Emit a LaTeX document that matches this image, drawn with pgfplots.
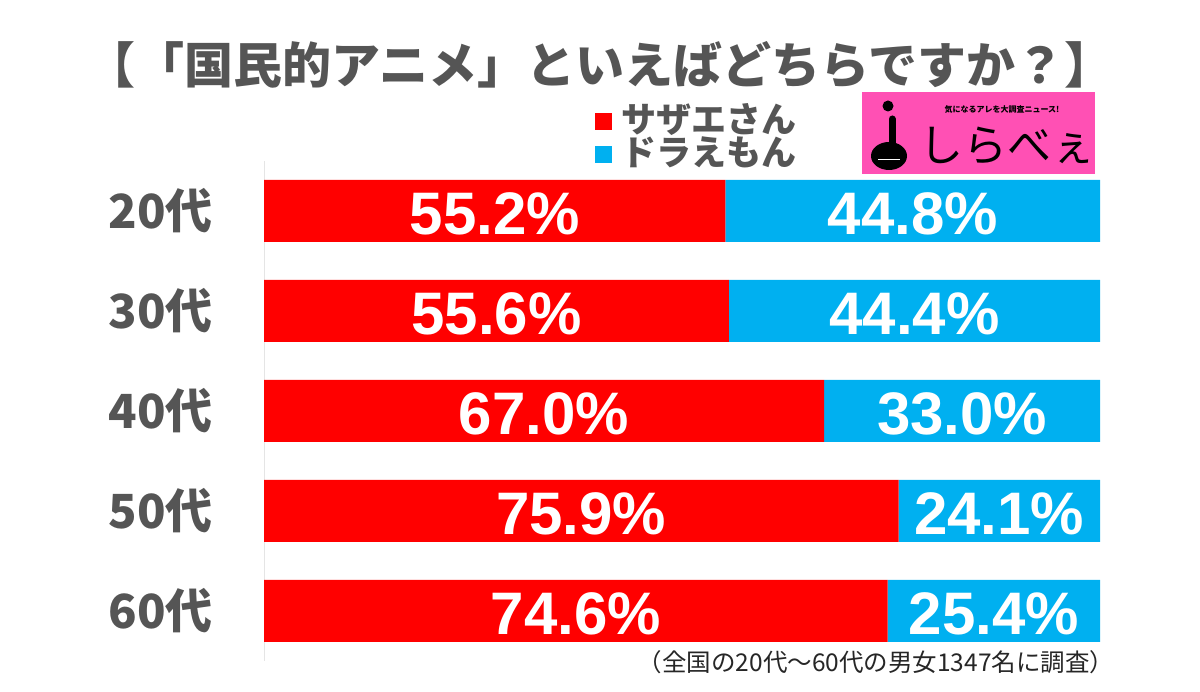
\documentclass[border=0pt]{standalone}
\usepackage{fontspec}
\setmainfont{Noto Sans CJK JP}
\newfontfamily\lib{Liberation Sans}
\usepackage{pgfplots}
\usepackage{pgfplotstable}
\pgfplotsset{compat=1.18}
\definecolor{sred}{HTML}{FF0000}
\definecolor{dblue}{HTML}{00B0F0}
\definecolor{tgray}{HTML}{555555}
\definecolor{logopink}{HTML}{FF50B4}
\pgfplotstableread{
y a b la lb
0 55.2 44.8 55.2 44.8
1 55.6 44.4 55.6 44.4
2 67.0 33.0 67.0 33.0
3 75.9 24.1 75.9 24.1
4 74.6 25.4 74.6 25.4
}\data
\begin{document}
\begin{tikzpicture}[x=1pt,y=1pt]
\path[use as bounding box] (0,0) rectangle (1200,692);
\node[font=\fontsize{49}{50}\selectfont\bfseries, text=tgray] at (600,627) {【「国民的アニメ」といえばどちらですか？】};
\begin{axis}[at={(264pt,31pt)}, anchor=south west, width=836pt, height=500pt, scale only axis,
  xbar stacked, bar width=62pt, xmin=0, xmax=100, ymin=-0.5, ymax=4.5, y dir=reverse,
  axis x line=none, axis y line=left, y axis line style={-, draw=gray!20, line width=1pt},
  ytick={0,1,2,3,4}, yticklabels={20代,30代,40代,50代,60代}, major tick length=0pt,
  yticklabel style={font=\fontsize{47}{50}\selectfont\bfseries, text=tgray, inner sep=0pt, xshift=-51pt, anchor=east},
  clip=false,
  legend style={at={(0.396,1.112)}, anchor=north west, draw=none, fill=none, inner sep=0pt, row sep=0pt,
    font=\fontsize{35}{38}\selectfont\bfseries, text=tgray, legend cell align=left,
    nodes={inner sep=0pt, text height=27pt, text depth=6pt}},
  legend image code/.code={\fill[#1] (0pt,-8.5pt) rectangle (17pt,8.5pt);},
]
\addlegendimage{fill=sred,draw=none}
\addlegendentry{\hspace{9pt}サザエさん}
\addlegendimage{fill=dblue,draw=none}
\addlegendentry{\hspace{9pt}ドラえもん}
\addplot[forget plot, fill=sred, draw=none, nodes near coords={\pgfplotspointmeta\%}, point meta=explicit symbolic,
  every node near coord/.append style={anchor=center, yshift=-3pt, font=\lib\fontsize{60}{60}\selectfont\bfseries, text=white}]
  table[x=a, y=y, meta=la] {\data};
\addplot[forget plot, fill=dblue, draw=none, nodes near coords={\pgfplotspointmeta\%}, point meta=explicit symbolic,
  every node near coord/.append style={anchor=center, yshift=-3pt, font=\lib\fontsize{60}{60}\selectfont\bfseries, text=white}]
  table[x=b, y=y, meta=lb] {\data};
\end{axis}
% logo
\fill[logopink] (862,518) rectangle (1095,600);
\node[font=\fontsize{8}{8}\selectfont\bfseries] at (1002,582) {気になるアレを大調査ニュース!};
\node[font=\fontsize{44}{44}\selectfont] at (1007,546) {しらべぇ};
\fill[black] (888,586) circle (5.5);
\draw[black, line width=7pt, line cap=round] (892,573) -- (892,548);
\fill[black] (889,536) ellipse (18 and 14);
\draw[white, line width=1pt] (878,532) -- (900,532);
\node[font=\fontsize{24.5}{26}\selectfont, text=black!85] at (876,30) {（全国の20代～60代の男女1347名に調査）};
\end{tikzpicture}
\end{document}
